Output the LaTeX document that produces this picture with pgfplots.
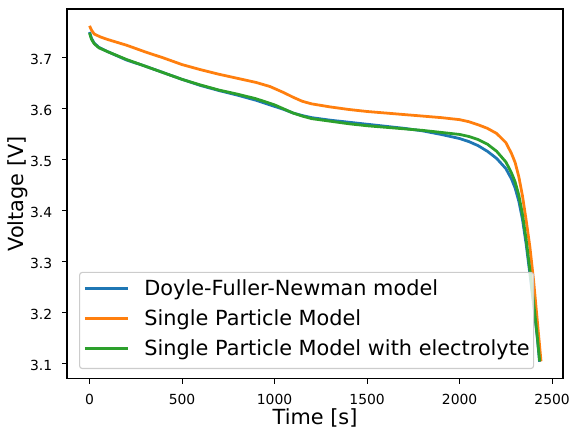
\documentclass[border=0pt]{standalone}
\usepackage{pgfplots}
\pgfplotsset{compat=1.18}
\usepackage{pgfplotstable}
\usepackage{fontspec}
\setmainfont{DejaVu Sans}
\definecolor{c0}{HTML}{1F77B4}
\definecolor{c1}{HTML}{FF7F0E}
\definecolor{c2}{HTML}{2CA02C}

\pgfplotstableread{
t v
0 3.750
10 3.738
25 3.728
50 3.720
100 3.711
200 3.695
300 3.683
400 3.670
500 3.657
600 3.645
700 3.635
800 3.626
900 3.616
1000 3.604
1050 3.598
1100 3.591
1150 3.586
1200 3.582
1300 3.577
1400 3.573
1500 3.569
1600 3.565
1700 3.561
1800 3.556
1900 3.549
2000 3.541
2050 3.535
2100 3.527
2150 3.516
2200 3.502
2250 3.482
2280 3.462
2300 3.444
2320 3.418
2340 3.382
2360 3.333
2380 3.275
2400 3.215
2420 3.150
2432 3.103
}\dfn

\pgfplotstableread{
t v
0 3.762
10 3.754
25 3.746
60 3.740
100 3.735
200 3.724
300 3.711
400 3.699
500 3.686
600 3.676
700 3.667
800 3.659
900 3.651
975 3.643
1050 3.631
1100 3.622
1150 3.614
1200 3.609
1300 3.603
1400 3.598
1500 3.594
1600 3.591
1700 3.588
1800 3.585
1900 3.582
2000 3.578
2050 3.574
2100 3.568
2150 3.561
2200 3.551
2250 3.533
2280 3.512
2300 3.494
2320 3.466
2340 3.428
2360 3.380
2380 3.328
2400 3.262
2420 3.183
2440 3.104
}\spm

\pgfplotstableread{
t v
0 3.748
10 3.736
25 3.727
50 3.719
100 3.711
200 3.696
300 3.683
400 3.670
500 3.657
600 3.646
700 3.636
800 3.628
900 3.619
1000 3.607
1050 3.599
1100 3.591
1150 3.585
1200 3.580
1300 3.575
1400 3.570
1500 3.566
1600 3.563
1700 3.560
1800 3.557
1900 3.553
2000 3.549
2050 3.545
2100 3.539
2150 3.530
2200 3.516
2250 3.495
2280 3.474
2300 3.456
2320 3.430
2340 3.392
2360 3.342
2380 3.283
2400 3.220
2420 3.152
2433 3.104
}\spme

\begin{document}
\begin{tikzpicture}
\path[use as bounding box] (-48.24pt,-42.8pt) rectangle (368.6pt,272.6pt);
\begin{axis}[
  scale only axis,
  width=357.1pt, height=266.1pt,
  xmin=-121.9, xmax=2559,
  ymin=3.070, ymax=3.795,
  xtick={0,500,1000,1500,2000,2500},
  ytick={3.1,3.2,3.3,3.4,3.5,3.6,3.7},
  scaled ticks=false,
  /pgf/number format/assume math mode=true,
  /pgf/number format/1000 sep={},
  yticklabel={\pgfmathprintnumber[fixed,fixed zerofill,precision=1]{\tick}},
  tick align=outside,
  major tick length=3.5pt,
  tick style={line width=0.8pt, black},
  axis line style={line width=0.8pt},
  xtick pos=bottom, ytick pos=left,
  ticklabel style={font=\fontsize{10}{12}\selectfont, inner sep=0pt},
  xticklabel style={anchor=base, yshift=-15.1pt},
  yticklabel style={anchor=east, xshift=-7pt, yshift=-1.4pt},
  xlabel={Time [s]},
  ylabel={Voltage [V]},
  label style={font=\fontsize{15}{18}\selectfont, inner sep=0pt},
  xlabel style={at={(axis description cs:0.5,-0.1244)}, anchor=base},
  ylabel style={at={(axis description cs:-0.0868,0.5)}, anchor=base},
  legend cell align=left,
  legend image code/.code={\draw[#1, line width=2.1pt, draw opacity=1, opacity=1] (0pt,1.6pt) -- (31pt,1.6pt);},
  legend style={
    at={(0.0242,0.0258)}, anchor=south west,
    draw=black!20, line width=0.8pt, rounded corners=2pt,
    fill=white, fill opacity=0.8, text opacity=1,
    font=\fontsize{15}{18}\selectfont,
    inner xsep=2.8pt, inner ysep=5.5pt,
    column sep=10.8pt, row sep=6.6pt,
    nodes={inner sep=0pt, text height=11.4pt, text depth=3.6pt},
  },
]
\addplot[c0, line width=2pt] table[x=t,y=v] {\dfn};
\addlegendentry{Doyle-Fuller-Newman model}
\addplot[c1, line width=2pt] table[x=t,y=v] {\spm};
\addlegendentry{Single Particle Model}
\addplot[c2, line width=2pt] table[x=t,y=v] {\spme};
\addlegendentry{Single Particle Model with electrolyte}
\end{axis}
\end{tikzpicture}
\end{document}
